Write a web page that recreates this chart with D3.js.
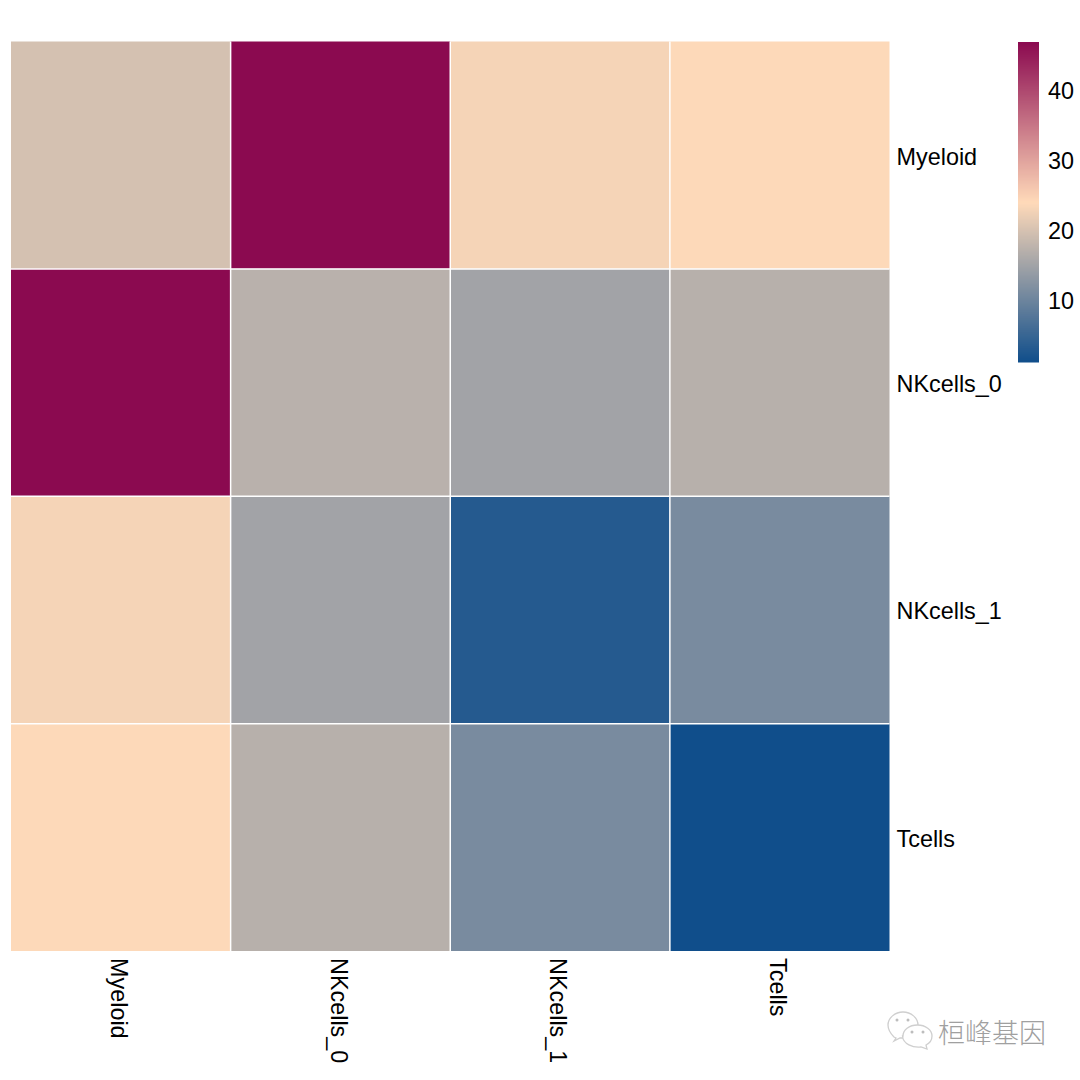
<!DOCTYPE html>
<html><head><meta charset="utf-8">
<script src="https://cdn.jsdelivr.net/npm/d3@7"></script>
<style>html,body{margin:0;padding:0;background:#fff}svg{display:block}text{font-family:"Liberation Sans",Arial,sans-serif;fill:#000}</style>
</head><body><div id="c"></div>
<script>
const rowLabels = ["Myeloid","NKcells_0","NKcells_1","Tcells"];
const colLabels = ["Myeloid","NKcells_0","NKcells_1","Tcells"];
const row0 = [20.0,47.0,23.2,24.0];
const row1 = [47.0,17.45,15.25,17.3];
const row2 = [23.2,15.25,3.3,11.3];
const row3 = [24.0,17.3,11.3,1.3];
const matrix = [row0,row1,row2,row3];
const legendTicks = [10,20,30,40];
const rampColors = ["#104E8B","#FFDAB9","#8B0A50"];
const domainMin = 1.3, domainMax = 47;
const watermark = "桓峰基因";
const labelSize = 23.4;

const svg = d3.select("#c").append("svg").attr("width",1080).attr("height",1080);
const x = d3.scaleBand().domain(d3.range(colLabels.length)).range([11,889.5]);
const y = d3.scaleBand().domain(d3.range(rowLabels.length)).range([41.5,951]);
const color = d3.scaleLinear().domain([domainMin,(domainMin+domainMax)/2,domainMax]).range(rampColors).interpolate(d3.interpolateRgb);

const cells = matrix.flatMap((r,i)=>r.map((v,j)=>({i,j,v})));
svg.append("g").selectAll("rect").data(cells).join("rect")
  .attr("x",d=>x(d.j)).attr("y",d=>y(d.i))
  .attr("width",x.bandwidth()).attr("height",y.bandwidth())
  .attr("fill",d=>color(d.v));
const sep = svg.append("g").attr("stroke","#fff").attr("stroke-width",1.5);
d3.range(1,colLabels.length).forEach(k=>sep.append("line").attr("x1",x(k)).attr("x2",x(k)).attr("y1",y.range()[0]).attr("y2",y.range()[1]));
d3.range(1,rowLabels.length).forEach(k=>sep.append("line").attr("y1",y(k)).attr("y2",y(k)).attr("x1",x.range()[0]).attr("x2",x.range()[1]));

svg.append("g").selectAll("text").data(rowLabels).join("text")
  .attr("x",896.5).attr("y",(d,i)=>y(i)+y.bandwidth()/2+1).attr("dy","0.36em")
  .attr("font-size",labelSize).text(d=>d);

svg.append("g").selectAll("text").data(colLabels).join("text")
  .attr("transform",(d,i)=>`translate(${x(i)+x.bandwidth()/2-1.5},958) rotate(90)`)
  .attr("dy","0.36em").attr("font-size",labelSize).text(d=>d);

// colour bar
const lg = d3.scaleLinear().domain([domainMin,domainMax]).range([362,42]);
const stepsN = 160;
const steps = d3.range(stepsN).map(k=>domainMin+(domainMax-domainMin)*k/stepsN);
const dv = (domainMax-domainMin)/stepsN;
svg.append("g").selectAll("rect").data(steps).join("rect")
  .attr("x",1018).attr("width",21)
  .attr("y",d=>lg(d+dv)).attr("height",d=>lg(d)-lg(d+dv)+0.5)
  .attr("fill",d=>color(d+dv/2));
const ax = svg.append("g").attr("transform","translate(1039,0)").call(d3.axisRight(lg).tickValues(legendTicks).tickSize(0).tickPadding(9));
ax.select(".domain").remove();
ax.selectAll("text").attr("font-size",labelSize).attr("font-family",'"Liberation Sans",Arial,sans-serif').attr("fill","#000");

// watermark
const wm = svg.append("g");
const icon = wm.append("g").attr("fill","#fff").attr("stroke","#cfcfcf").attr("stroke-width",1.3);
icon.append("path").attr("d","M896 1038 l-2 -1 c-4 -4 -6 -8 -6 -12 c0 -7 7 -13 15 -13 c8 0 15 6 15 13 c0 7 -7 13 -15 13 l-3 0 l-6 3 Z");
icon.append("path").attr("d","M903 1036 c0 -6 6 -11 14.5 -11 c8 0 14.5 5 14.5 11 c0 4 -2 7 -6 9 l1 4 l-6 -2 c-8 1 -18 -3 -18.5 -11 Z");
const dots = wm.append("g").attr("fill","#bdbdbd");
[[897,1020],[908,1020],[912,1032],[923,1032]].forEach(p=>dots.append("circle").attr("cx",p[0]).attr("cy",p[1]).attr("r",1.5));
wm.append("text").attr("x",938).attr("y",1043).attr("font-size",27)
  .style("font-family",'"Noto Sans CJK SC"').style("font-weight",300).style("fill","#a0a0a0").text(watermark);
</script></body></html>
